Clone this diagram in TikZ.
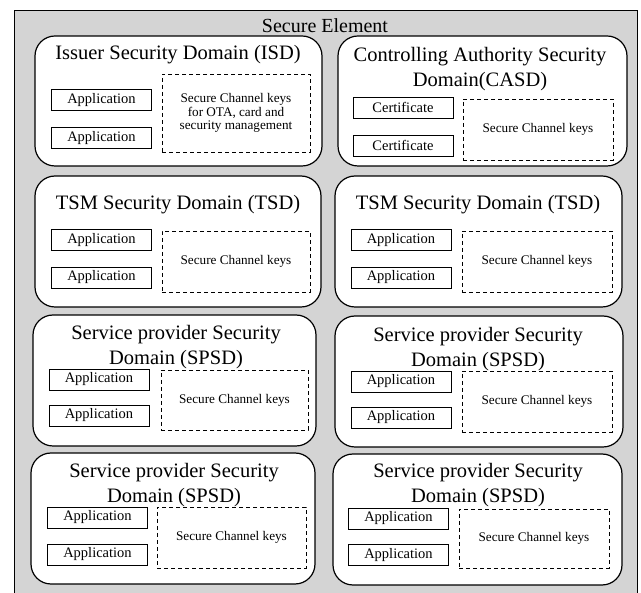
\documentclass[tikz,border=0pt]{standalone}
\usepackage{fontspec}
\setmainfont{Liberation Serif}
\definecolor{chipgray}{RGB}{212,212,212}
\begin{document}
\begin{tikzpicture}[x=1pt,y=-1pt,
  panel/.style={draw=black, fill=white, line width=1.2pt, rounded corners=20pt, inner sep=0pt},
  appbox/.style={draw=black, fill=white, line width=0.9pt, minimum width=100pt, minimum height=21pt, inner sep=0pt, font=\fontsize{14.5}{16}\selectfont},
  keybox/.style={draw=black, fill=white, line width=0.9pt, dash pattern=on 4pt off 3pt, inner sep=0pt, align=center, font=\fontsize{13.2}{13.5}\selectfont},
  ttl/.style={align=center, inner sep=0pt, font=\fontsize{20.5}{25}\selectfont}
]
\useasboundingbox (0,0) rectangle (641,593);
% card outline
\fill[chipgray] (14,10) rectangle (637,593);
\draw[line width=0.9pt] (14,593) -- (14,10) -- (637,10) -- (637,593);
\node[ttl, font=\fontsize{20}{24}\selectfont] (se) at (325,26) {Secure Element};

% ---- row 1 ----
\node[panel, minimum width=287pt, minimum height=130pt] (isd) at (178.5,101) {};
\node[ttl] (isdT) at (178,55) {Issuer Security Domain (ISD)};
\node[appbox] (isdA1) at (101.5,100) {Application};
\node[appbox] (isdA2) at (101.5,138) {Application};
\node[keybox, minimum width=148pt, minimum height=78pt] (isdK) at (236,113) {Secure Channel keys\\for OTA, card and\\security management};

\node[panel, minimum width=289pt, minimum height=130pt] (casd) at (482.5,101) {};
\node[ttl] (casdT) at (480,69.5) {Controlling Authority Security\\Domain(CASD)};
\node[appbox] (casdC1) at (403,107.5) {Certificate};
\node[appbox] (casdC2) at (403,145.5) {Certificate};
\node[keybox, minimum width=150pt, minimum height=61pt] (casdK) at (538,129.5) {Secure Channel keys};

% ---- row 2 ----
\node[panel, minimum width=286pt, minimum height=131pt] (tsdL) at (178,241.5) {};
\node[ttl] (tsdLT) at (178,205) {TSM Security Domain (TSD)};
\node[appbox] (tsdLA1) at (101.5,240) {Application};
\node[appbox] (tsdLA2) at (101.5,277.5) {Application};
\node[keybox, minimum width=148pt, minimum height=61pt] (tsdLK) at (236,261.5) {Secure Channel keys};

\node[panel, minimum width=287pt, minimum height=131pt] (tsdR) at (478.5,241.5) {};
\node[ttl] (tsdRT) at (478,205) {TSM Security Domain (TSD)};
\node[appbox] (tsdRA1) at (401,240) {Application};
\node[appbox] (tsdRA2) at (401,277.5) {Application};
\node[keybox, minimum width=150pt, minimum height=61pt] (tsdRK) at (537,261.5) {Secure Channel keys};

% ---- row 3 ----
\node[panel, minimum width=283pt, minimum height=131pt] (spL1) at (174.5,380.5) {};
\node[ttl] (spL1T) at (176,347.5) {Service provider Security\\Domain (SPSD)};
\node[appbox] (spL1A1) at (99,379.5) {Application};
\node[appbox] (spL1A2) at (99,415.5) {Application};
\node[keybox, minimum width=147pt, minimum height=60pt] (spL1K) at (234.5,400) {Secure Channel keys};

\node[panel, minimum width=288pt, minimum height=131pt] (spR1) at (479,381.5) {};
\node[ttl] (spR1T) at (478,349.5) {Service provider Security\\Domain (SPSD)};
\node[appbox] (spR1A1) at (401,381.5) {Application};
\node[appbox] (spR1A2) at (401,417.5) {Application};
\node[keybox, minimum width=150pt, minimum height=61pt] (spR1K) at (537,401.5) {Secure Channel keys};

% ---- row 4 ----
\node[panel, minimum width=284pt, minimum height=131pt] (spL2) at (173,518.5) {};
\node[ttl] (spL2T) at (174,485.5) {Service provider Security\\Domain (SPSD)};
\node[appbox] (spL2A1) at (97.5,517.5) {Application};
\node[appbox] (spL2A2) at (97.5,554.5) {Application};
\node[keybox, minimum width=149pt, minimum height=61pt] (spL2K) at (231.5,537.5) {Secure Channel keys};

\node[panel, minimum width=289pt, minimum height=131pt] (spR2) at (477.5,519.5) {};
\node[ttl] (spR2T) at (478,485.5) {Service provider Security\\Domain (SPSD)};
\node[appbox] (spR2A1) at (398.5,518.5) {Application};
\node[appbox] (spR2A2) at (398.5,555) {Application};
\node[keybox, minimum width=150pt, minimum height=59pt] (spR2K) at (534,538.5) {Secure Channel keys};
\end{tikzpicture}
\end{document}
